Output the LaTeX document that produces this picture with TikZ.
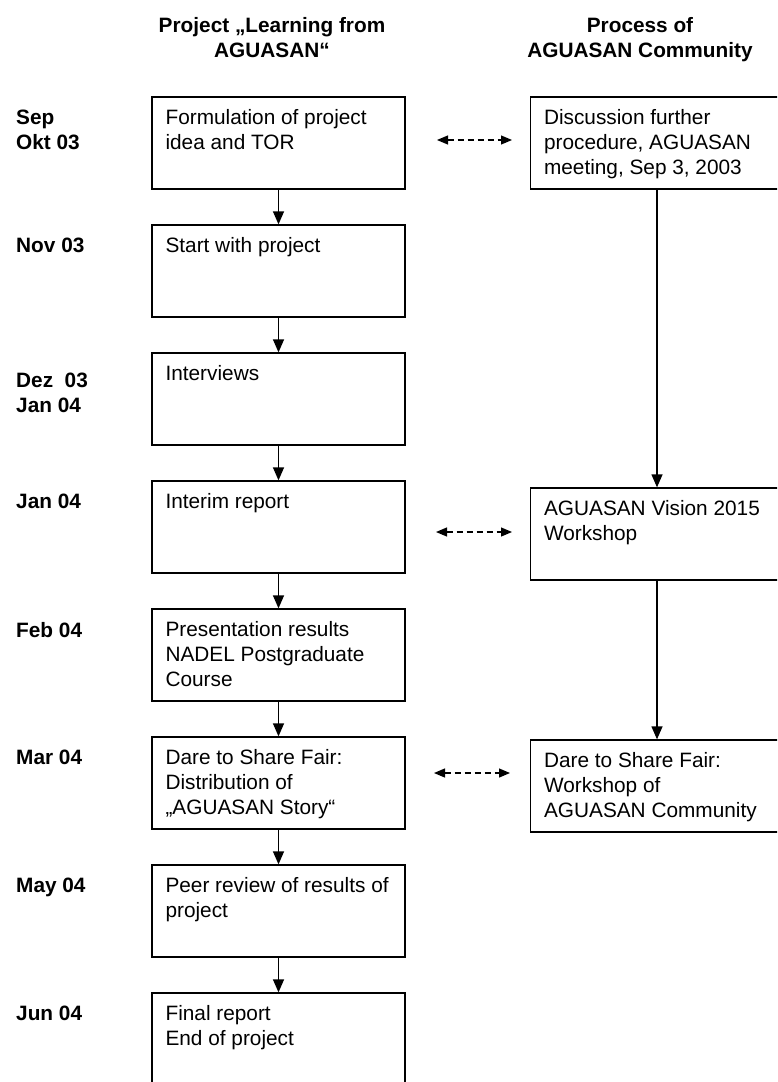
\documentclass[tikz,border=0pt]{standalone}
\usepackage{fontspec}
\setmainfont{Liberation Sans}
\usetikzlibrary{arrows.meta,calc}
\begin{document}
\begin{tikzpicture}[x=1pt,y=-1pt,
 box/.style={draw, line width=1.3pt, minimum width=253pt, minimum height=92pt, inner sep=0pt},
 txt/.style={anchor=north west, inner sep=0pt, align=left, font=\fontsize{20.8}{25}\selectfont},
 lbl/.style={anchor=north west, inner sep=0pt, align=left, font=\fontsize{20.8}{25}\selectfont\bfseries},
 hdr/.style={anchor=north, inner sep=0pt, align=center, font=\fontsize{20.8}{25}\selectfont\bfseries},
 flow/.style={line width=1.3pt, -{Triangle[length=13pt,width=11pt]}},
 link/.style={line width=1.2pt, dash pattern=on 6pt off 4pt, {Triangle[length=11pt,width=9pt]}-{Triangle[length=11pt,width=9pt]}}]
\useasboundingbox (0,0) rectangle (777,1082);
\clip (0,0) rectangle (777,1082);

% headers
\node[hdr] (h1) at (272,17) {Project „Learning from\\AGUASAN“};
\node[hdr] (h2) at (640,17) {Process of\\AGUASAN Community};

% left boxes
\node[box] (b1) at (278.5,143) {};
\node[box] (b2) at (278.5,271) {};
\node[box] (b3) at (278.5,399) {};
\node[box] (b4) at (278.5,527) {};
\node[box] (b5) at (278.5,655) {};
\node[box] (b6) at (278.5,783) {};
\node[box] (b7) at (278.5,911) {};
\node[box] (b8) at (278.5,1039) {};

% right boxes
\node[box] (r1) at (657,143) {};
\node[box] (r2) at (657,534) {};
\node[box] (r3) at (657,786) {};

% box texts
\node[txt] (t1) at ($(b1.north west)+(14,13)$) {Formulation of project\\idea and TOR};
\node[txt] (t2) at ($(b2.north west)+(14,13)$) {Start with project};
\node[txt] (t3) at ($(b3.north west)+(14,13)$) {Interviews};
\node[txt] (t4) at ($(b4.north west)+(14,13)$) {Interim report};
\node[txt] (t5) at ($(b5.north west)+(14,13)$) {Presentation results\\NADEL Postgraduate\\Course};
\node[txt] (t6) at ($(b6.north west)+(14,13)$) {Dare to Share Fair:\\Distribution of\\„AGUASAN Story“};
\node[txt] (t7) at ($(b7.north west)+(14,13)$) {Peer review of results of\\project};
\node[txt] (t8) at ($(b8.north west)+(14,13)$) {Final report\\End of project};
\node[txt] (s1) at ($(r1.north west)+(14,13)$) {Discussion further\\procedure, AGUASAN\\meeting, Sep 3, 2003};
\node[txt] (s2) at ($(r2.north west)+(14,13)$) {AGUASAN Vision 2015\\Workshop};
\node[txt] (s3) at ($(r3.north west)+(14,13)$) {Dare to Share Fair:\\Workshop of\\AGUASAN Community};

% date labels
\node[lbl] (d1) at (16,110) {Sep\\Okt 03};
\node[lbl] (d2) at (16,238) {Nov 03};
\node[lbl] (d3) at (16,373) {Dez~~03\\Jan 04};
\node[lbl] (d4) at (16,494) {Jan 04};
\node[lbl] (d5) at (16,622) {Feb 04};
\node[lbl] (d6) at (16,750) {Mar 04};
\node[lbl] (d7) at (16,878) {May 04};
\node[lbl] (d8) at (16,1006) {Jun 04};

% flow arrows
\draw[flow] (b1.south) -- (b2.north);
\draw[flow] (b2.south) -- (b3.north);
\draw[flow] (b3.south) -- (b4.north);
\draw[flow] (b4.south) -- (b5.north);
\draw[flow] (b5.south) -- (b6.north);
\draw[flow] (b6.south) -- (b7.north);
\draw[flow] (b7.south) -- (b8.north);
\draw[flow] (r1.south) -- (r2.north);
\draw[flow] (r2.south) -- (r3.north);

% dashed links
\coordinate (la1) at (437,140);
\coordinate (lb1) at (512,140);
\coordinate (la2) at (436,532);
\coordinate (lb2) at (512,532);
\coordinate (la3) at (434,773);
\coordinate (lb3) at (510,773);
\draw[link] (la1) -- (lb1);
\draw[link] (la2) -- (lb2);
\draw[link] (la3) -- (lb3);
\end{tikzpicture}
\end{document}
